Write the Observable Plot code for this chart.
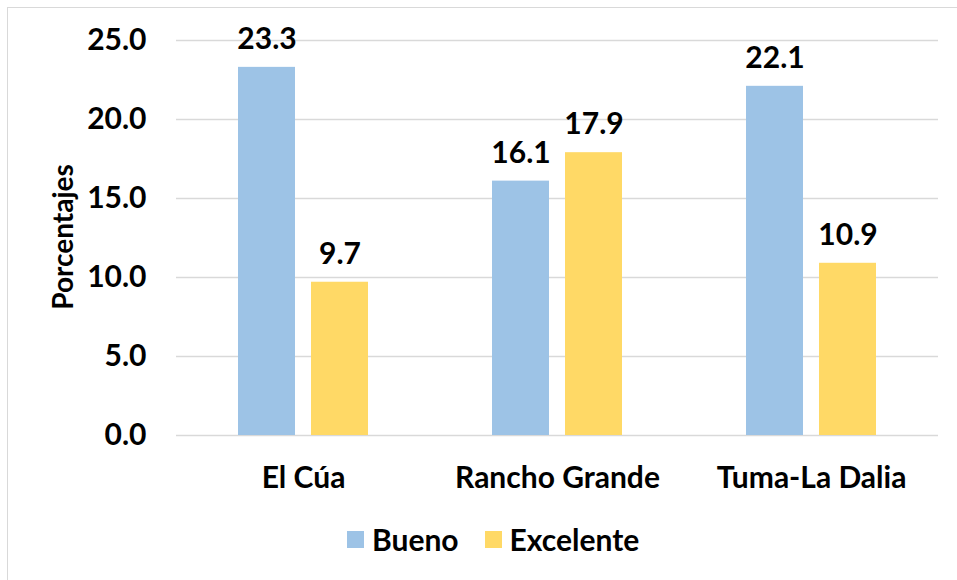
<!DOCTYPE html>
<html><head><meta charset="utf-8">
<script src="https://cdn.jsdelivr.net/npm/d3@7"></script>
<script src="https://cdn.jsdelivr.net/npm/@observablehq/plot@0.6"></script>
<style>
body{margin:0;background:#fff;}
#wrap{position:relative;width:957px;height:580px;overflow:hidden;font-family:Lato,sans-serif;font-weight:bold;color:#000;}
#frame{position:absolute;left:7px;top:7px;width:1200px;height:1200px;border-left:1px solid #d9d9d9;border-top:1px solid #d9d9d9;box-sizing:border-box;}
#chart{position:absolute;left:0;top:0;}
#ytitle{position:absolute;left:62px;top:237px;transform:translate(-50%,-50%) rotate(-90deg);font-size:28px;white-space:nowrap;}
#legend{position:absolute;top:539px;left:347px;transform:translateY(-50%);display:flex;align-items:center;font-size:30px;}
.sw{display:inline-block;width:17px;height:17px;margin-right:8px;}
.item{display:flex;align-items:center;margin-right:26px;}
</style></head>
<body>
<div id="wrap"><div id="frame"></div><div id="chart"></div><div id="ytitle">Porcentajes</div><div id="legend"></div></div>
<script>
const categories = ["El Cúa", "Rancho Grande", "Tuma-La Dalia"];
const series = ["Bueno", "Excelente"];
const bueno = [23.3, 16.1, 22.1];
const excelente = [9.7, 17.9, 10.9];
const colors = ["#9DC3E6", "#FFD966"];
const yTicks = [0, 5, 10, 15, 20, 25];

const rows = [];
categories.forEach((c, i) => {
  rows.push({cat: c, series: series[0], value: bueno[i]});
  rows.push({cat: c, series: series[1], value: excelente[i]});
});

const chart = Plot.plot({
  width: 957, height: 580,
  marginLeft: 175, marginRight: 19, marginTop: 40, marginBottom: 145,
  style: {fontFamily: "Lato, sans-serif", fontWeight: "bold", fontSize: "30px", color: "#000", background: "transparent", overflow: "visible"},
  fx: {domain: categories, padding: 0, label: null, axis: "bottom", tickSize: 0, tickPadding: 31},
  x: {domain: series, paddingInner: 0.219, paddingOuter: 0.849, axis: null},
  y: {domain: [0, 25], ticks: yTicks, tickFormat: d => d.toFixed(1), tickSize: 0, tickPadding: 30, label: null},
  color: {domain: series, range: colors},
  marks: [
    Plot.gridY(yTicks, {stroke: "#d9d9d9", strokeOpacity: 1, strokeWidth: 1.5}),
    Plot.barY(rows, {fx: "cat", x: "series", y: "value", fill: "series"}),
    Plot.text(rows, {fx: "cat", x: "series", y: "value", text: d => d.value.toFixed(1), dy: -28, fontSize: 30, fontWeight: "bold", fill: "#000"})
  ]
});
document.getElementById("chart").appendChild(chart);

const legend = document.getElementById("legend");
series.forEach((s, i) => {
  const item = document.createElement("div");
  item.className = "item";
  const sw = document.createElement("span");
  sw.className = "sw";
  sw.style.background = colors[i];
  item.appendChild(sw);
  item.appendChild(document.createTextNode(s));
  legend.appendChild(item);
});
</script>
</body></html>
